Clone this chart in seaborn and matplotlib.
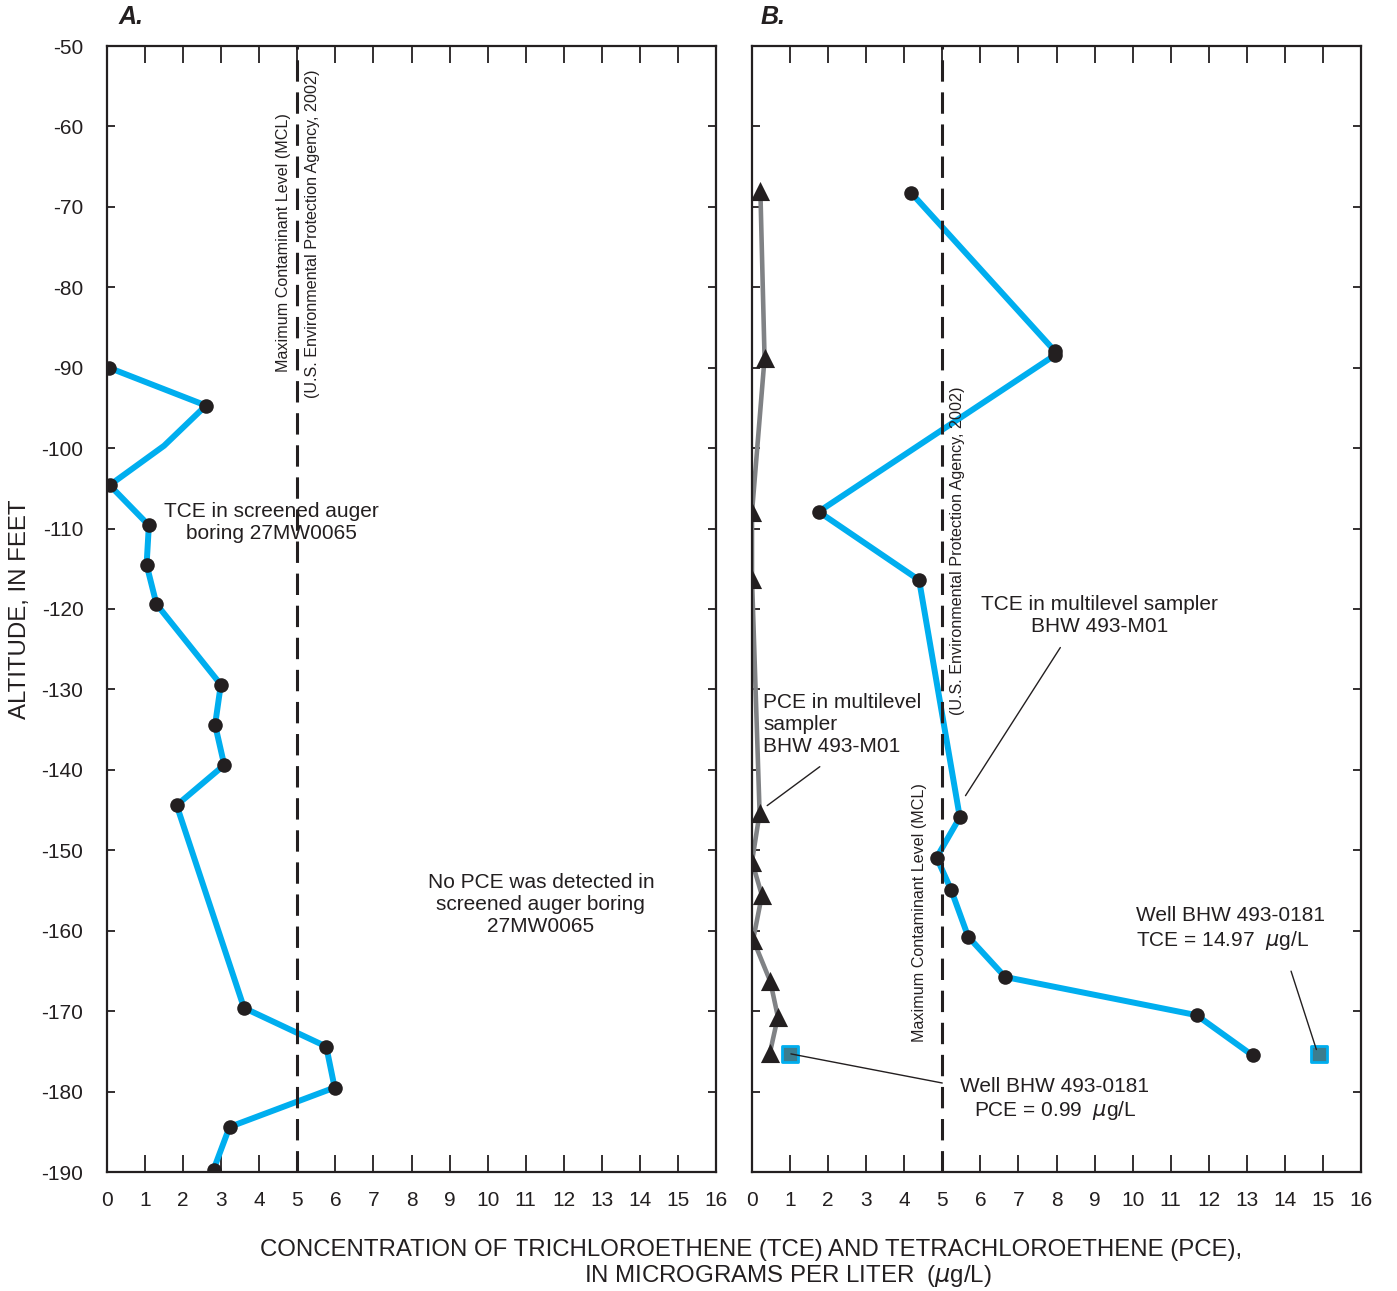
import matplotlib
matplotlib.use("Agg")
import matplotlib.pyplot as plt
import seaborn as sns
import pandas as pd

# ---------------- data ----------------
# Panel A: TCE in screened auger boring 27MW0065
tce_a_x = [0.05, 2.6, 1.5, 0.07, 1.1, 1.04, 1.3, 2.99, 2.84, 3.08, 1.83, 3.6, 5.76, 5.98, 3.22, 2.8]
tce_a_y = [-90.0, -94.7, -99.7, -104.6, -109.6, -114.5, -119.4, -129.4, -134.4, -139.4, -144.4,
           -169.6, -174.4, -179.5, -184.4, -189.7]
tce_a_sampled = [True, True, False, True, True, True, True, True, True, True, True,
                 True, True, True, True, True]

# Panel B: TCE and PCE in multilevel sampler BHW 493-M01
tce_b_x = [4.19, 7.95, 7.97, 1.75, 4.39, 5.46, 4.85, 5.23, 5.68, 6.65, 11.68, 13.15]
tce_b_y = [-68.3, -87.9, -88.4, -107.9, -116.4, -145.9, -150.9, -154.9, -160.75, -165.75, -170.5, -175.5]
pce_b_x = [0.22, 0.33, 0.0, 0.0, 0.2, 0.0, 0.26, 0.03, 0.48, 0.68, 0.47]
pce_b_y = [-68.0, -88.8, -108.0, -116.3, -145.4, -151.4, -155.6, -161.1, -166.3, -170.7, -175.2]

# Well BHW 493-0181
well_x = [14.9, 0.99]
well_y = [-175.3, -175.3]

mcl = 5
x_ticks = list(range(0, 17))
y_ticks = list(range(-50, -191, -10))

# ---------------- style ----------------
sns.set_theme(style="white")
plt.rcParams['font.family'] = ['Liberation Sans', 'DejaVu Sans']
plt.rcParams['mathtext.fontset'] = 'dejavusans'
plt.rcParams['axes.unicode_minus'] = False

BLUE = "#00AEEF"
GRAY = "#808285"
BLACK = "#231F20"
FS = 15
TICKFS = 15

fig = plt.figure(figsize=(13.97, 12.91), dpi=100)
axA = fig.add_axes([107/1397, 1-1172/1291, 609/1397, 1126/1291])
axB = fig.add_axes([752/1397, 1-1172/1291, 609/1397, 1126/1291])

dfA = pd.DataFrame({"x": tce_a_x, "y": tce_a_y, "s": tce_a_sampled})
dfTB = pd.DataFrame({"x": tce_b_x, "y": tce_b_y})
dfPB = pd.DataFrame({"x": pce_b_x, "y": pce_b_y})

# Panel A
sns.lineplot(data=dfA, x="x", y="y", sort=False, estimator=None, color=BLUE, lw=4.3, ax=axA)
sns.scatterplot(data=dfA[dfA["s"]], x="x", y="y", color=BLACK, s=110, edgecolor=BLACK,
                linewidth=0, ax=axA, zorder=5)

# Panel B
sns.lineplot(data=dfPB, x="x", y="y", sort=False, estimator=None, color=GRAY, lw=3.3, ax=axB)
sns.scatterplot(data=dfPB, x="x", y="y", marker="^", color=BLACK, s=190, linewidth=0, ax=axB, zorder=5)
sns.lineplot(data=dfTB, x="x", y="y", sort=False, estimator=None, color=BLUE, lw=4.3, ax=axB)
sns.scatterplot(data=dfTB, x="x", y="y", color=BLACK, s=110, linewidth=0, ax=axB, zorder=5)
sns.scatterplot(x=well_x, y=well_y, marker="s", color="#3C7D8E", edgecolor=BLUE,
                linewidth=2, s=130, ax=axB, zorder=6)

for ax in (axA, axB):
    ax.axvline(mcl, color=BLACK, lw=2.2, ls=(0, (7, 3.5)), zorder=3)
    ax.set_xlim(0, 16)
    ax.set_ylim(-190, -50)
    ax.set_xticks(x_ticks)
    ax.set_yticks(y_ticks)
    ax.set_xlabel("")
    ax.set_ylabel("")
    for sp in ax.spines.values():
        sp.set_visible(True)
        sp.set_color(BLACK)
        sp.set_linewidth(1.6)
    ax.tick_params(axis="x", direction="in", length=12, width=1.3, color=BLACK,
                   top=True, bottom=True, labelsize=TICKFS, pad=14, labelcolor=BLACK)
    ax.tick_params(axis="y", direction="in", length=6, width=1.3, color=BLACK,
                   left=True, right=True, labelsize=TICKFS, pad=17, labelcolor=BLACK)
    ax.grid(False)

axB.set_yticklabels([])

# MCL labels
MFS = 11.6
axA.text(4.65, -74.5, "Maximum Contaminant Level (MCL)", rotation=90, fontsize=MFS,
         ha="center", va="center", color=BLACK)
axA.text(5.41, -73.3, "(U.S. Environmental Protection Agency, 2002)", rotation=90, fontsize=MFS,
         ha="center", va="center", color=BLACK)
axB.text(5.39, -112.8, "(U.S. Environmental Protection Agency, 2002)", rotation=90, fontsize=MFS,
         ha="center", va="center", color=BLACK)
axB.text(4.39, -157.7, "Maximum Contaminant Level (MCL)", rotation=90, fontsize=MFS,
         ha="center", va="center", color=BLACK)

# annotations A
axA.text(4.31, -109.2, "TCE in screened auger\nboring 27MW0065", fontsize=FS, ha="center",
         va="center", color=BLACK, zorder=4)
axA.text(11.4, -156.8, "No PCE was detected in\nscreened auger boring\n27MW0065", fontsize=FS,
         ha="center", va="center", color=BLACK)

# annotations B
axB.text(0.29, -134.3, "PCE in multilevel\nsampler\nBHW 493-M01", fontsize=FS, ha="left",
         va="center", color=BLACK)
axB.annotate("", xy=(0.34, -144.65), xytext=(1.84, -139.4),
             arrowprops=dict(arrowstyle="-", color=BLACK, lw=1.0))
axB.text(9.14, -120.8, "TCE in multilevel sampler\nBHW 493-M01", fontsize=FS, ha="center",
         va="center", color=BLACK)
axB.annotate("", xy=(5.57, -143.5), xytext=(8.14, -124.5),
             arrowprops=dict(arrowstyle="-", color=BLACK, lw=1.0))
axB.text(10.09, -159.8, "Well BHW 493-0181\nTCE = 14.97  $\\mu$g/L", fontsize=FS, ha="left",
         va="center", color=BLACK)
axB.annotate("", xy=(14.85, -175.1), xytext=(14.14, -164.7),
             arrowprops=dict(arrowstyle="-", color=BLACK, lw=1.0), zorder=7)
axB.text(7.96, -181.0, "Well BHW 493-0181\nPCE = 0.99  $\\mu$g/L", fontsize=FS, ha="center",
         va="center", color=BLACK)
axB.annotate("", xy=(0.95, -175.25), xytext=(5.07, -179.0),
             arrowprops=dict(arrowstyle="-", color=BLACK, lw=1.0), zorder=7)

# panel labels
fig.text(131/1397, 1-17/1291, "A.", fontsize=18, fontweight="bold", fontstyle="italic",
         ha="center", va="center", color=BLACK)
fig.text(773/1397, 1-17/1291, "B.", fontsize=18, fontweight="bold", fontstyle="italic",
         ha="center", va="center", color=BLACK)

# axis titles
fig.text(20/1397, 1-609/1291, "ALTITUDE, IN FEET", rotation=90, fontsize=17.3,
         ha="center", va="center", color=BLACK)
fig.text(751/1397, 1-1250/1291,
         "CONCENTRATION OF TRICHLOROETHENE (TCE) AND TETRACHLOROETHENE (PCE),",
         fontsize=17.3, ha="center", va="center", color=BLACK)
fig.text(788/1397, 1-1276/1291, "IN MICROGRAMS PER LITER  ($\\mu$g/L)",
         fontsize=17.3, ha="center", va="center", color=BLACK)

fig.savefig("out.png", dpi=100)
